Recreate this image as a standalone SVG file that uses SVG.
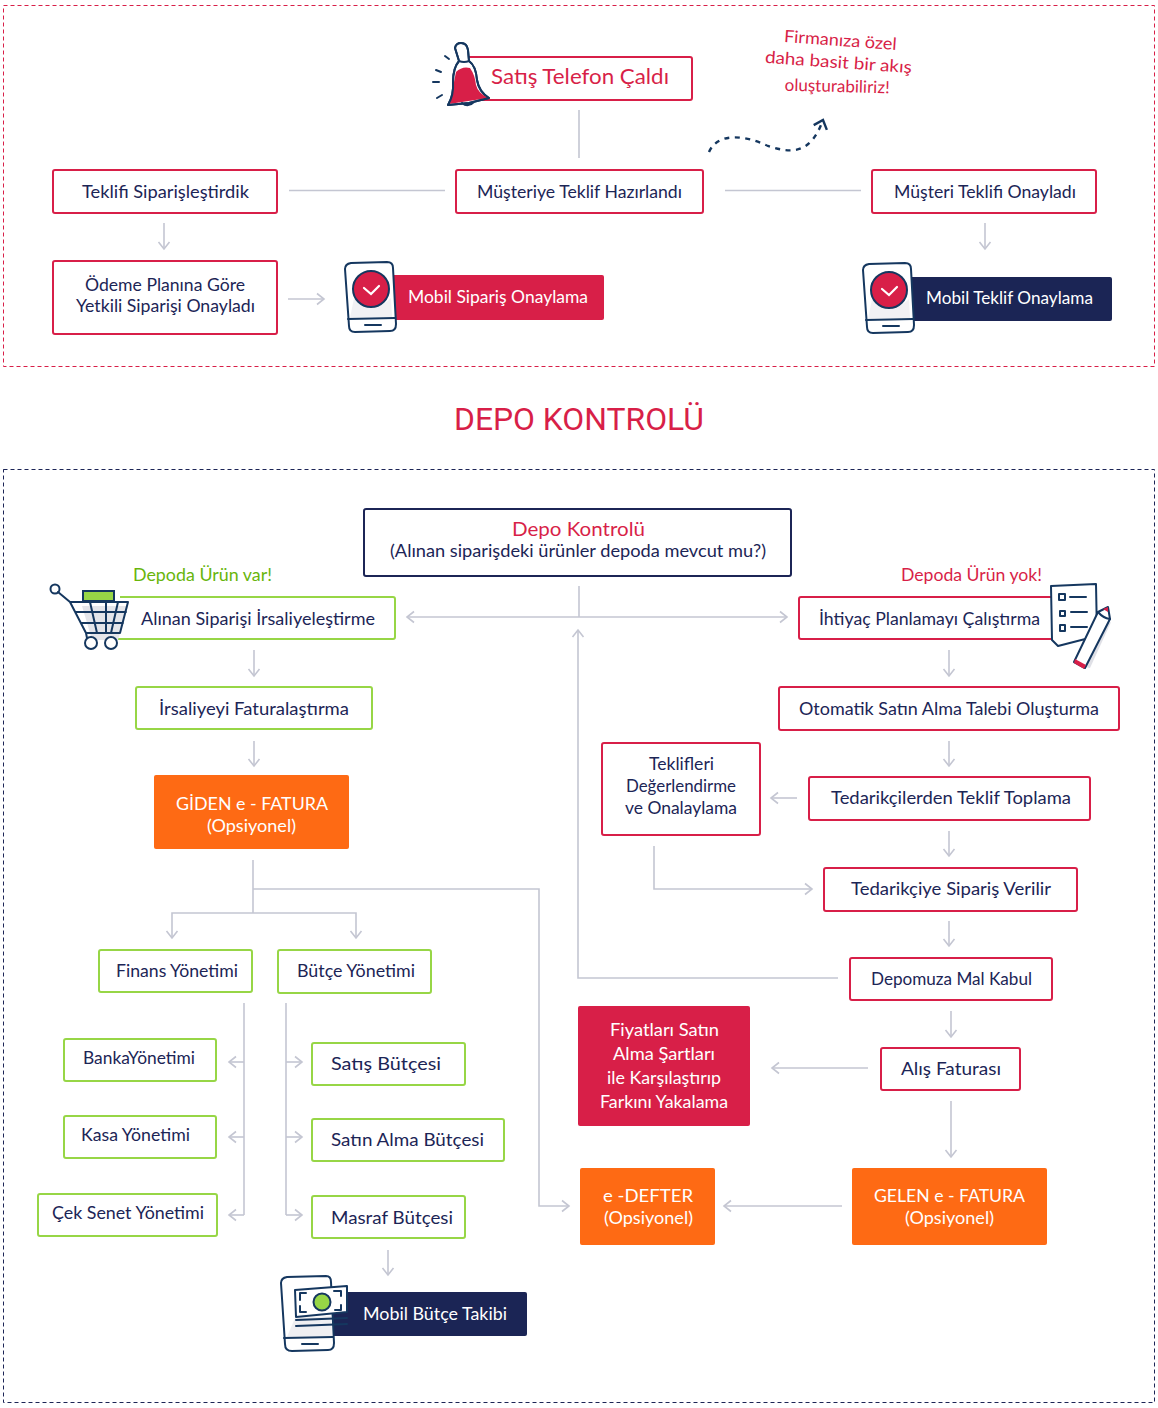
<svg xmlns="http://www.w3.org/2000/svg" width="1158" height="1408" viewBox="0 0 1158 1408">
<style>
text{font-family:"Lato","Noto Sans","Liberation Sans",sans-serif;font-size:17px;fill:#1c2556;text-anchor:middle}
.w{fill:#fff}.r{fill:#d81f48}.g{fill:#68b50c}
.br{fill:#fff;stroke:#d81f48;stroke-width:2}
.bn{fill:#fff;stroke:#1c2556;stroke-width:2}
.bg{fill:#fff;stroke:#97d646;stroke-width:2}
.fr{fill:#d81f48}.fn{fill:#1b2555}.fo{fill:#fe6a14}
.frame{fill:none;stroke-width:1;stroke-dasharray:4 3}
.c{fill:none;stroke:#c4c6d2;stroke-width:1.6}
.a{marker-end:url(#ah)}
.i{fill:none;stroke:#15375f;stroke-width:2;stroke-linecap:round;stroke-linejoin:round}
.if{fill:#fff;stroke:#15375f;stroke-width:2;stroke-linejoin:round}
.shadow{fill:#dfe0e6}
</style>
<defs>
<marker id="ah" markerUnits="userSpaceOnUse" markerWidth="16" markerHeight="16" refX="10" refY="8" orient="auto-start-reverse">
<path d="M3 2.500L10 8L3 13.500" fill="none" stroke="#c4c6d2" stroke-width="1.600"/>
</marker>
<marker id="dh" markerUnits="userSpaceOnUse" markerWidth="20" markerHeight="20" refX="11" refY="10" orient="auto">
<path d="M3 3L11 10L3 17" fill="none" stroke="#15375f" stroke-width="2.400"/>
</marker>
<g id="phone">
<path class="if" d="M351 263L387 262Q393 262 393 268L396 324Q396 331 390 331L355 332Q349 332 349 326L345 269Q345 264 351 263Z"/>
<path class="shadow" d="M354 298Q370 318 391 298L392 317L350 318Z" opacity=".45"/>
<path class="i" d="M348 319L395 318M365 325L381 325"/>
<circle cx="371" cy="289" r="18" fill="#d81f48" stroke="#15375f" stroke-width="2"/>
<path d="M364 288L371 294L379 286" fill="none" stroke="#fff" stroke-width="2.200" stroke-linecap="round"/>
</g>
</defs>

<rect class="frame" x="3.500" y="5.500" width="1151" height="361" stroke="#d81f48"/>
<rect class="frame" x="3.500" y="469.500" width="1151" height="933" stroke="#1c2556"/>
<text id="title" x="579" y="430" style="font-family:Roboto,sans-serif;font-size:32px;fill:#d81f48" textLength="250" lengthAdjust="spacingAndGlyphs">DEPO KONTROLÜ</text>

<g id="connectors">
<path class="c" d="M579 110V158M289 190.500H445M725 190.500H861"/>
<path class="c a" d="M164 223V249"/>
<path class="c a" d="M985 223V249"/>
<path class="c a" d="M288 299H324"/>
<path d="M709 152C718 132 745 135 768 146C790 153 810 156 823 120" fill="none" stroke="#15375f" stroke-width="2.400" stroke-dasharray="5 5.500" marker-end="url(#dh)"/>
<path class="c" d="M579 586V617"/>
<path class="c a" style="marker-start:url(#ah)" d="M407 617H787"/>
<path class="c a" d="M254 650V676"/>
<path class="c a" d="M254 741V766"/>
<path class="c a" d="M949 650V676"/>
<path class="c a" d="M949 741V766"/>
<path class="c a" d="M949 831V856"/>
<path class="c a" d="M949 921V946"/>
<path class="c a" d="M951 1011V1037"/>
<path class="c a" d="M951 1101V1157"/>
<path class="c a" d="M797 798H771"/>
<path class="c a" d="M654 846V889H812"/>
<path class="c a" d="M838 978H578V630"/>
<path class="c a" d="M868 1068H772"/>
<path class="c a" d="M842 1206H724"/>
<path class="c" d="M253 860V913"/>
<path class="c a" d="M253 913H172V938"/>
<path class="c a" d="M253 913H356V938"/>
<path class="c a" d="M253 889H539V1206H569"/>
<path class="c" d="M244 1003V1215"/>
<path class="c a" d="M244 1062H229"/>
<path class="c a" d="M244 1137H229"/>
<path class="c a" d="M244 1215H229"/>
<path class="c" d="M286 1003V1215"/>
<path class="c a" d="M286 1062H302"/>
<path class="c a" d="M286 1137H302"/>
<path class="c a" d="M286 1215H302"/>
<path class="c a" d="M388 1250V1275"/>
</g>

<g id="n-satis">
<rect class="br" x="467" y="57" width="225" height="43" rx="2"/>
<path class="i" d="M445 56L449 59M436 70L441 72M433 82L439 82M437 98L442 95"/>
<path class="if" d="M455 48Q456 43 461 43Q467 43 468 50L469 61Q476 66 477 80Q479 92 489 98L469 103L448 105Q454 95 453 82Q453 68 459 61Z"/>
<path d="M456 72Q462 66 470 68Q475 75 476 85Q478 93 488 98L449 104Q454 94 454 82Z" fill="#d81f48"/>
<path class="i" d="M455 48Q456 43 461 43Q467 43 468 50L469 61Q476 66 477 80Q479 92 489 98L469 103L448 105Q454 95 453 82Q453 68 459 61ZM459 61Q464 63 469 61M462 103Q468 108 474 102"/>
<text class="r" x="580" y="84" style="font-size:21px" textLength="178" lengthAdjust="spacingAndGlyphs">Satış Telefon Çaldı</text>
</g>
<g id="n-note">
<text class="r" x="840" y="46" transform="rotate(4 840 46)" textLength="113" lengthAdjust="spacingAndGlyphs">Firmanıza özel</text>
<text class="r" x="838" y="68" transform="rotate(4 838 68)" textLength="147" lengthAdjust="spacingAndGlyphs">daha basit bir akış</text>
<text class="r" x="837" y="92" transform="rotate(1.500 837 92)" textLength="105" lengthAdjust="spacingAndGlyphs">oluşturabiliriz!</text>
</g>
<g id="n-musteriye"><rect class="br" x="456" y="170" width="247" height="43" rx="2"/><text x="579.500" y="198" textLength="205" lengthAdjust="spacingAndGlyphs">Müşteriye Teklif Hazırlandı</text></g>
<g id="n-teklifi"><rect class="br" x="53" y="170" width="224" height="43" rx="2"/><text x="165.500" y="198" textLength="167" lengthAdjust="spacingAndGlyphs">Teklifi Siparişleştirdik</text></g>
<g id="n-musteri"><rect class="br" x="872" y="170" width="224" height="43" rx="2"/><text x="985" y="198" textLength="182" lengthAdjust="spacingAndGlyphs">Müşteri Teklifi Onayladı</text></g>
<g id="n-odeme"><rect class="br" x="53" y="261" width="224" height="73" rx="2"/>
<text x="165" y="291" textLength="160" lengthAdjust="spacingAndGlyphs">Ödeme Planına Göre</text>
<text x="165.500" y="312" textLength="179" lengthAdjust="spacingAndGlyphs">Yetkili Siparişi Onayladı</text></g>
<g id="n-mobil-siparis"><rect class="fr" x="390" y="275" width="214" height="45" rx="2"/><use href="#phone"/><text class="w" x="498" y="303" textLength="180" lengthAdjust="spacingAndGlyphs">Mobil Sipariş Onaylama</text></g>
<g id="n-mobil-teklif"><rect class="fn" x="908" y="277" width="204" height="44" rx="2"/><use href="#phone" x="518" y="1"/><text class="w" x="1009.500" y="304" textLength="167" lengthAdjust="spacingAndGlyphs">Mobil Teklif Onaylama</text></g>

<g id="n-depo"><rect class="bn" x="364" y="509" width="427" height="67" rx="2"/>
<text class="r" x="578.500" y="536" style="font-size:20px" textLength="133" lengthAdjust="spacingAndGlyphs">Depo Kontrolü</text>
<text x="578" y="557" textLength="376" lengthAdjust="spacingAndGlyphs">(Alınan siparişdeki ürünler depoda mevcut mu?)</text></g>
<text id="l-var" class="g" x="202.500" y="581" textLength="139" lengthAdjust="spacingAndGlyphs">Depoda Ürün var!</text>
<text id="l-yok" class="r" x="971.500" y="581" textLength="141" lengthAdjust="spacingAndGlyphs">Depoda Ürün yok!</text>

<g id="n-irsaliyelestirme"><path class="bg" d="M120 597H393Q395 597 395 599V637Q395 639 393 639H118"/>
<path class="shadow" d="M82 606H128L118 640H92Z" opacity=".85"/>
<rect x="83" y="591" width="31" height="10" fill="#97d646" stroke="#15375f" stroke-width="2"/>
<circle class="if" cx="55" cy="589" r="4.500"/>
<path class="i" d="M58 592L70 602L86 633H120L128 602H70M76 612H126M81 623H123M90 602L97 633M106 602V633M118 602L111 633M86 633L87 638"/>
<circle class="if" cx="91" cy="643" r="6"/><circle class="if" cx="111" cy="643" r="6"/>
<text x="258" y="625" textLength="234" lengthAdjust="spacingAndGlyphs">Alınan Siparişi İrsaliyeleştirme</text></g>
<g id="n-irsaliye"><rect class="bg" x="136" y="687" width="236" height="42" rx="2"/><text x="254" y="715" textLength="190" lengthAdjust="spacingAndGlyphs">İrsaliyeyi Faturalaştırma</text></g>
<g id="n-giden"><rect class="fo" x="154" y="775" width="195" height="74" rx="2"/>
<text class="w" x="252" y="810" textLength="152" lengthAdjust="spacingAndGlyphs">GİDEN e - FATURA</text>
<text class="w" x="251.500" y="832" textLength="89" lengthAdjust="spacingAndGlyphs">(Opsiyonel)</text></g>
<g id="n-finans"><rect class="bg" x="99" y="950" width="153" height="42" rx="2"/><text x="177" y="977" textLength="122" lengthAdjust="spacingAndGlyphs">Finans Yönetimi</text></g>
<g id="n-butce"><rect class="bg" x="278" y="950" width="153" height="43" rx="2"/><text x="356" y="977" textLength="118" lengthAdjust="spacingAndGlyphs">Bütçe Yönetimi</text></g>
<g id="n-banka"><rect class="bg" x="64" y="1039" width="152" height="42" rx="2"/><text x="139" y="1064" textLength="112" lengthAdjust="spacingAndGlyphs">BankaYönetimi</text></g>
<g id="n-kasa"><rect class="bg" x="64" y="1116" width="152" height="42" rx="2"/><text x="135.500" y="1141" textLength="109" lengthAdjust="spacingAndGlyphs">Kasa Yönetimi</text></g>
<g id="n-cek"><rect class="bg" x="38" y="1194" width="179" height="42" rx="2"/><text x="128" y="1219" textLength="152" lengthAdjust="spacingAndGlyphs">Çek Senet Yönetimi</text></g>
<g id="n-satis-butce"><rect class="bg" x="312" y="1043" width="153" height="42" rx="2"/><text x="386" y="1070" textLength="110" lengthAdjust="spacingAndGlyphs">Satış Bütçesi</text></g>
<g id="n-satin-butce"><rect class="bg" x="312" y="1119" width="192" height="42" rx="2"/><text x="407.500" y="1146" textLength="153" lengthAdjust="spacingAndGlyphs">Satın Alma Bütçesi</text></g>
<g id="n-masraf"><rect class="bg" x="312" y="1196" width="153" height="42" rx="2"/><text x="392" y="1224" textLength="122" lengthAdjust="spacingAndGlyphs">Masraf Bütçesi</text></g>
<g id="n-mobil-butce"><rect class="fn" x="330" y="1292" width="197" height="44" rx="2"/>
<path class="if" d="M287 1277L326 1276Q331 1276 331 1282L334 1343Q334 1350 328 1350L292 1351Q285 1351 285 1344L281 1283Q281 1278 287 1277Z"/>
<path class="shadow" d="M295 1318L331 1316L332 1336L287 1337Z" opacity=".5"/>
<path class="i" d="M284 1338L333 1337M302 1344L318 1344M296 1320L347 1318M296 1326L347 1324"/>
<path class="if" d="M295 1290L347 1286L347 1312L296 1317Z"/>
<circle cx="322" cy="1302" r="8.500" fill="#97d646" stroke="#15375f" stroke-width="2"/>
<path class="i" d="M306 1293H300V1300M300 1306V1312H306M334 1291H341V1296M341 1305V1310H335"/>
<text class="w" x="435" y="1320" textLength="144" lengthAdjust="spacingAndGlyphs">Mobil Bütçe Takibi</text></g>

<g id="n-ihtiyac"><rect class="br" x="799" y="597" width="262" height="42" rx="2"/>
<path class="if" d="M1051 586L1096 584L1097 636L1058 646L1052 640Z"/>
<path class="if" d="M1059 594H1065V600H1059ZM1060 611H1065V616H1060ZM1060 625H1065V631H1060Z" stroke-width="2.400"/>
<path class="i" d="M1070 597H1086M1071 612H1087M1071 627H1087"/>
<path class="shadow" d="M1111 622L1090 668L1081 666L1106 625Z"/>
<path class="if" d="M1098 612L1108 607L1110 619L1085 668L1074 662Z"/>
<path d="M1075 659L1086 665L1084 669L1074 663Z" fill="#d81f48"/>
<path d="M1103 609L1108 607L1108 612Z" fill="#d81f48"/>
<path class="i" d="M1098 612Q1103 618 1110 619"/>
<text x="929.500" y="625" textLength="221" lengthAdjust="spacingAndGlyphs">İhtiyaç Planlamayı Çalıştırma</text></g>
<g id="n-otomatik"><rect class="br" x="779" y="687" width="340" height="43" rx="2"/><text x="949" y="715" textLength="300" lengthAdjust="spacingAndGlyphs">Otomatik Satın Alma Talebi Oluşturma</text></g>
<g id="n-tedarikcilerden"><rect class="br" x="809" y="777" width="281" height="43" rx="2"/><text x="951" y="804" textLength="240" lengthAdjust="spacingAndGlyphs">Tedarikçilerden Teklif Toplama</text></g>
<g id="n-teklifleri"><rect class="br" x="602" y="743" width="158" height="92" rx="2"/>
<text x="681.500" y="770" textLength="65" lengthAdjust="spacingAndGlyphs">Teklifleri</text>
<text x="681" y="792" textLength="110" lengthAdjust="spacingAndGlyphs">Değerlendirme</text>
<text x="681" y="814" textLength="112" lengthAdjust="spacingAndGlyphs">ve Onalaylama</text></g>
<g id="n-tedarikciye"><rect class="br" x="824" y="868" width="253" height="43" rx="2"/><text x="951" y="895" textLength="200" lengthAdjust="spacingAndGlyphs">Tedarikçiye Sipariş Verilir</text></g>
<g id="n-depomuza"><rect class="br" x="850" y="958" width="202" height="42" rx="2"/><text x="951.500" y="985" textLength="161" lengthAdjust="spacingAndGlyphs">Depomuza Mal Kabul</text></g>
<g id="n-alis"><rect class="br" x="881" y="1048" width="139" height="42" rx="2"/><text x="951" y="1075" textLength="100" lengthAdjust="spacingAndGlyphs">Alış Faturası</text></g>
<g id="n-fiyat"><rect class="fr" x="578" y="1006" width="172" height="120" rx="2"/>
<text class="w" x="664.500" y="1036" textLength="109" lengthAdjust="spacingAndGlyphs">Fiyatları Satın</text>
<text class="w" x="664" y="1060" textLength="102" lengthAdjust="spacingAndGlyphs">Alma Şartları</text>
<text class="w" x="664" y="1084" textLength="114" lengthAdjust="spacingAndGlyphs">ile Karşılaştırıp</text>
<text class="w" x="664" y="1108" textLength="128" lengthAdjust="spacingAndGlyphs">Farkını Yakalama</text></g>
<g id="n-edefter"><rect class="fo" x="580" y="1168" width="135" height="77" rx="2"/>
<text class="w" x="648" y="1202" textLength="90" lengthAdjust="spacingAndGlyphs">e -DEFTER</text>
<text class="w" x="648.500" y="1224" textLength="89" lengthAdjust="spacingAndGlyphs">(Opsiyonel)</text></g>
<g id="n-gelen"><rect class="fo" x="852" y="1168" width="195" height="77" rx="2"/>
<text class="w" x="949.500" y="1202" textLength="151" lengthAdjust="spacingAndGlyphs">GELEN e - FATURA</text>
<text class="w" x="949.500" y="1224" textLength="89" lengthAdjust="spacingAndGlyphs">(Opsiyonel)</text></g>
</svg>
